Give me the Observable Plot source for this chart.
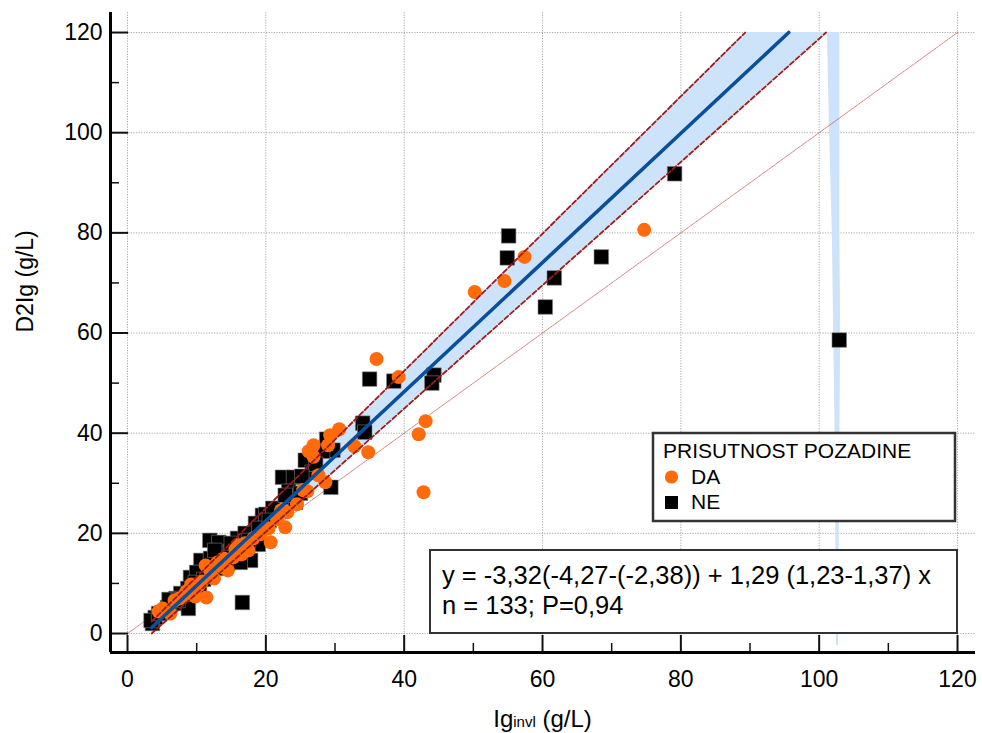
<!DOCTYPE html>
<html><head><meta charset="utf-8">
<script src="https://cdn.jsdelivr.net/npm/d3@7"></script>
<script src="https://cdn.jsdelivr.net/npm/@observablehq/plot@0.6"></script>
<style>
html,body{margin:0;padding:0;background:#fff;}
#chart{width:982px;height:733px;}
</style></head><body><div id="chart"></div>
<script>
// ---- data ----
const daX = [74.7,57.4,54.5,50.2,36.0,39.2,43.1,42.1,42.8,30.6,29.3,32.8,34.8,26.9,26.9,28.6,26.0,23.1,22.8,20.4,20.7,19.2,17.5,16.0,15.3,13.9,13.7,11.3,11.4,9.8,10.3,6.2,5.1,4.5,7.5,8.5,12.5,14.5,18.2,21.6,24.5,25.4,27.6,12.0,9.2,15.6,29.0,6.8,22.2,17.0,10.8,26.2,8.2,19.8,16.5,13.0];
const daY = [80.6,75.2,70.4,68.2,54.8,51.2,42.4,39.8,28.2,40.8,39.6,37.4,36.2,37.6,35.3,30.2,28.4,24.2,21.2,21.0,18.2,19.8,16.6,17.6,15.2,15.0,13.2,13.6,7.2,7.4,9.6,4.0,5.0,4.4,7.0,8.4,11.0,12.6,19.0,22.8,25.8,28.6,31.6,12.4,9.8,16.8,37.6,6.6,24.6,18.0,10.4,36.4,7.6,20.8,15.8,14.2];
const neX = [102.9,79.1,68.5,61.7,60.4,55.1,54.9,44.3,44.0,38.5,35.0,34.0,34.3,29.4,16.6,29.7,28.8,28.2,25.7,26.7,22.4,24.0,23.3,23.6,24.3,19.5,18.5,18.1,15.9,11.9,13.2,16.3,17.8,14.6,10.6,14.5,12.3,16.3,14.9,12.0,13.0,11.6,9.1,8.7,7.7,6.7,5.8,4.0,3.6,8.1,8.8,20.0,21.0,17.0,15.0,10.0,9.8,7.0,6.0,5.0,3.4,9.5,11.0,13.8,16.8,19.0,20.5,25.0,27.2,22.8,12.6,7.3,4.5,18.9,17.5,10.4,25.2];
const neY = [58.6,91.8,75.2,71.0,65.2,79.4,75.0,51.6,50.0,50.4,50.8,42.0,40.2,29.2,6.2,36.6,38.8,36.4,34.6,32.2,31.2,31.2,28.4,27.2,26.2,23.6,22.0,19.2,19.0,18.6,18.2,16.6,14.6,16.0,14.6,14.0,13.2,14.2,16.4,15.0,13.0,12.0,11.2,9.0,8.0,6.2,5.2,3.2,2.0,6.0,5.0,23.8,25.0,20.0,18.0,12.2,10.2,7.0,6.8,4.2,2.6,8.4,10.8,15.2,17.6,21.0,22.6,28.0,33.8,27.6,16.6,6.6,4.0,17.8,18.6,9.6,31.4];

// regression line (Passing-Bablok) and CI lines, as drawn, clipped at y=120
const regX = [3.5, 95.6];   const regY = [1.2, 120];
const upX  = [3.5, 89.3];   const upY  = [2.4, 120];
const loX  = [3.5, 101.0];  const loY  = [0.0, 120];
const idX  = [0, 120];      const idY  = [0, 120];
// stray band strip near x≈102
const stripY  = [120, 100, 80, 60, 40, 20, -2.4];
const stripXL = [101.2, 101.5, 101.9, 102.1, 102.3, 102.4, 102.5];
const stripXR = [103.0, 103.0, 103.0, 103.1, 103.0, 102.9, 102.8];

const xMajor = [0,20,40,60,80,100,120];
const xMinor = [10,30,50,70,90,110];
const yMajor = [0,20,40,60,80,100,120];
const yMinor = [10,30,50,70,90,110];

const legendTitle = "PRISUTNOST POZADINE";
const groups = ["DA","NE"];
const eqLine1 = "y = -3,32(-4,27-(-2,38)) + 1,29 (1,23-1,37) x";
const eqLine2 = "n = 133; P=0,94";
const yLabel = "D2Ig (g/L)";

// ---- build ----
const FONT = "'Liberation Sans', Arial, Helvetica, sans-serif";
const W = 982, H = 733, mL = 110, mR = 7, mT = 12, mB = 81;
const pW = W - mL - mR, pH = H - mT - mB;
const xDomain = [-2.46, 122.6], yDomain = [-3.79, 124.0];

const da = daX.map((x,i)=>({x, y: daY[i]}));
const ne = neX.map((x,i)=>({x, y: neY[i]}));
const line = (xs, ys) => xs.map((x,i)=>({x, y: ys[i]}));
const band = loX.map((x,i)=>({lx: x, ly: loY[i], ux: upX[i], uy: upY[i]}));
const strip = stripY.map((y,i)=>({y, xl: stripXL[i], xr: stripXR[i]}));

const gridStyle = {stroke:"#a8a8a8", strokeOpacity:1, strokeWidth:1, strokeDasharray:"1.2,1.4"};

const chart = Plot.plot({
  width: W, height: H, marginLeft: mL, marginRight: mR, marginTop: mT, marginBottom: mB,
  x: {domain: xDomain}, y: {domain: yDomain},
  style: {fontFamily: FONT, fontSize: "23px", color: "#000", background: "#fff", overflow: "visible"},
  marks: [
    Plot.gridX(xMajor, gridStyle),
    Plot.gridY(yMajor, gridStyle),
    Plot.area(band, {x1: "lx", y1: "ly", x2: "ux", y2: "uy", fill: "#cce3f9"}),
    Plot.area(strip, {x1: "xl", y1: "y", x2: "xr", y2: "y", fill: "#cce3f9"}),
    Plot.line(line(idX, idY), {x: "x", y: "y", stroke: "#c0504d", strokeWidth: 0.9, strokeOpacity: 0.8, strokeDasharray: "2,1"}),
    Plot.dot(ne, {x: "x", y: "y", symbol: "square", r: 8.2, fill: "#000", stroke: "#808080", strokeWidth: 0.6}),
    Plot.dot(da, {x: "x", y: "y", r: 7, fill: "#ff6a0a", stroke: "none"}),
    Plot.line(line(upX, upY), {x: "x", y: "y", stroke: "#a11a1a", strokeWidth: 1.8, strokeDasharray: "5,2.5"}),
    Plot.line(line(loX, loY), {x: "x", y: "y", stroke: "#a11a1a", strokeWidth: 1.8, strokeDasharray: "5,2.5"}),
    Plot.line(line(regX, regY), {x: "x", y: "y", stroke: "#0b4f9c", strokeWidth: 3.6}),
    Plot.tickY(yMajor, {y: d => d, insetRight: pW - 18, stroke: "#111", strokeWidth: 2}),
    Plot.tickY(yMinor, {y: d => d, insetRight: pW - 9, stroke: "#111", strokeWidth: 1.5}),
    Plot.tickX(xMajor, {x: d => d, insetTop: pH - 17, stroke: "#111", strokeWidth: 2}),
    Plot.tickX(xMinor, {x: d => d, insetTop: pH - 9, stroke: "#111", strokeWidth: 1.5}),
    Plot.ruleX([xDomain[0]], {stroke: "#000", strokeWidth: 3}),
    Plot.ruleY([yDomain[0]], {stroke: "#000", strokeWidth: 3}),
    Plot.axisY(yMajor, {tickSize: 0, tickPadding: 8, fontSize: 23, label: null}),
    Plot.axisX(xMajor, {tickSize: 0, tickPadding: 18, fontSize: 23, label: null}),
    Plot.text([yLabel], {frameAnchor: "left", rotate: -90, dx: -85, fontSize: 23, fill: "#000"})
  ]
});
document.getElementById("chart").appendChild(chart);

const svg = d3.select(chart);
// x-axis title with small "invl"
const xt = svg.append("text").attr("x", mL + pW/2).attr("y", 727)
  .attr("text-anchor", "middle").attr("font-family", FONT).attr("font-size", 24).attr("fill", "#000");
xt.append("tspan").text("Ig");
xt.append("tspan").attr("font-size", 15).text("invl");
xt.append("tspan").text(" (g/L)");

// legend box
const lg = svg.append("g").attr("font-family", FONT).attr("fill", "#000").attr("text-anchor", "start");
lg.append("rect").attr("x", 653).attr("y", 433).attr("width", 302).attr("height", 88)
  .attr("fill", "#fff").attr("stroke", "#333").attr("stroke-width", 2.5);
lg.append("text").attr("x", 663).attr("y", 458).attr("font-size", 21).text(legendTitle);
lg.append("circle").attr("cx", 671.5).attr("cy", 477).attr("r", 6.6).attr("fill", "#ff6a0a");
lg.append("text").attr("x", 691).attr("y", 484).attr("font-size", 21).text(groups[0]);
lg.append("rect").attr("x", 665).attr("y", 496).attr("width", 13).attr("height", 13).attr("fill", "#000");
lg.append("text").attr("x", 691).attr("y", 509).attr("font-size", 21).text(groups[1]);

// equation box
const eq = svg.append("g").attr("font-family", FONT).attr("fill", "#000").attr("text-anchor", "start");
eq.append("rect").attr("x", 430).attr("y", 550).attr("width", 527).attr("height", 83)
  .attr("fill", "#fff").attr("stroke", "#333").attr("stroke-width", 2);
eq.append("text").attr("x", 442).attr("y", 584).attr("font-size", 25.5).text(eqLine1);
eq.append("text").attr("x", 442).attr("y", 614).attr("font-size", 25.5).text(eqLine2);
</script>
</body></html>
